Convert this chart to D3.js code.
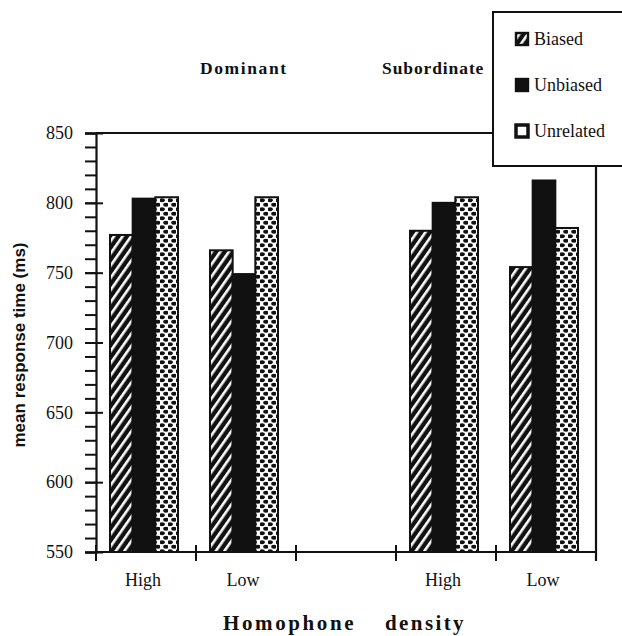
<!DOCTYPE html>
<html>
<head>
<meta charset="utf-8">
<script src="https://cdn.jsdelivr.net/npm/d3@7"></script>
<style>
  body { margin: 0; background: #fff; }
  text { font-family: "Liberation Serif", "Times New Roman", serif; fill: #111; }
</style>
</head>
<body>
<script>
// slots along the x axis, the third one is the empty gap between the two panels
const slots = ["D-High", "D-Low", "gap", "S-High", "S-Low"];
const slotLabels = ["High", "Low", "", "High", "Low"];
const series = ["Biased", "Unbiased", "Unrelated"];
const biased = [777, 766, null, 780, 754];
const unbiased = [803, 749, null, 800, 816];
const unrelated = [804, 804, null, 804, 782];
const yTicks = [550, 600, 650, 700, 750, 800, 850];

const serif = "'Liberation Serif', 'Times New Roman', serif";
const W = 622, H = 636;
const svg = d3.select("body").append("svg")
    .attr("width", W)
    .attr("height", H);

const defs = svg.append("defs");

// diagonal white stripes on black
const hatch = defs.append("pattern")
    .attr("id", "hatch")
    .attr("patternUnits", "userSpaceOnUse")
    .attr("width", 7).attr("height", 7)
    .attr("patternTransform", "rotate(35)");
hatch.append("rect").attr("width", 7).attr("height", 7).attr("fill", "#111");
hatch.append("rect").attr("x", 2).attr("width", 2.6).attr("height", 7).attr("fill", "#fff");

// staggered black dots on white
const dots = defs.append("pattern")
    .attr("id", "dots")
    .attr("patternUnits", "userSpaceOnUse")
    .attr("width", 8).attr("height", 9);
dots.append("rect").attr("width", 8).attr("height", 9).attr("fill", "#fff");
dots.append("ellipse").attr("cx", 2).attr("cy", 2.25).attr("rx", 2.8).attr("ry", 1.9).attr("fill", "#111");
dots.append("ellipse").attr("cx", 6).attr("cy", 6.75).attr("rx", 2.8).attr("ry", 1.9).attr("fill", "#111");

const fills = { Biased: "url(#hatch)", Unbiased: "#111", Unrelated: "url(#dots)" };
const legendFills = { Biased: "url(#hatch)", Unbiased: "#111", Unrelated: "#fff" };

const x = d3.scaleBand().domain(slots).range([96, 596]);
const xSub = d3.scaleBand().domain(series).range([14, 82]);
const y = d3.scaleLinear().domain([550, 850]).range([552, 133]);

const rows = slots.map((s, i) => ({
  slot: s,
  values: [
    { key: "Biased", v: biased[i] },
    { key: "Unbiased", v: unbiased[i] },
    { key: "Unrelated", v: unrelated[i] }
  ]
}));

// bars
const g = svg.append("g").selectAll("g")
    .data(rows)
    .join("g")
    .attr("transform", d => `translate(${x(d.slot)},0)`);

g.selectAll("rect")
    .data(d => d.values.filter(e => e.v != null))
    .join("rect")
    .attr("x", d => xSub(d.key))
    .attr("width", xSub.bandwidth())
    .attr("y", d => y(d.v))
    .attr("height", d => y(550) - y(d.v))
    .attr("fill", d => fills[d.key])
    .attr("stroke", "#111")
    .attr("stroke-width", 2);

// y axis with minor ticks every 10
const yAxisMinor = d3.axisLeft(y).tickValues(d3.range(550, 851, 10)).tickSize(11).tickFormat("");
svg.append("g").attr("transform", "translate(96,0)").call(yAxisMinor)
    .call(s => s.select(".domain").remove())
    .selectAll("line").attr("stroke", "#111").attr("stroke-width", 2);

const yAxis = d3.axisLeft(y).tickValues(yTicks).tickSize(11).tickPadding(12);
const ya = svg.append("g").attr("transform", "translate(96,0)").call(yAxis)
    .attr("font-family", serif);
ya.select(".domain").attr("stroke", "#111").attr("stroke-width", 2.2);
ya.selectAll(".tick line").attr("x2", 7).attr("x1", -11).attr("stroke", "#111").attr("stroke-width", 2);
ya.selectAll(".tick text").attr("font-size", 18).style("font-family", serif).attr("fill", "#111");

// x axis
const xa = svg.append("g").attr("transform", "translate(0,552)");
xa.append("line").attr("x1", 96).attr("x2", 596).attr("stroke", "#111").attr("stroke-width", 2.2);
const edges = slots.map(s => x(s)).concat([x.range()[1]]);
xa.selectAll(".xt").data(edges).join("line")
    .attr("x1", d => d).attr("x2", d => d)
    .attr("y1", -7).attr("y2", 9)
    .attr("stroke", "#111").attr("stroke-width", 2);
xa.selectAll(".xl").data(slots).join("text")
    .attr("x", d => x(d) + 14 + 33)
    .attr("y", 34)
    .attr("text-anchor", "middle")
    .attr("font-size", 18)
    .text((d, i) => slotLabels[i]);

// frame: top and right edges
svg.append("line").attr("x1", 96).attr("x2", 493).attr("y1", 133).attr("y2", 133)
    .attr("stroke", "#111").attr("stroke-width", 2);
svg.append("line").attr("x1", 596).attr("x2", 596).attr("y1", 166).attr("y2", 561)
    .attr("stroke", "#111").attr("stroke-width", 2.2);

// panel titles
svg.append("text").attr("x", 200).attr("y", 74).attr("font-size", 17.5).attr("font-weight", "bold")
    .attr("letter-spacing", 1.6).text("Dominant");
svg.append("text").attr("x", 382).attr("y", 74).attr("font-size", 17.5).attr("font-weight", "bold")
    .attr("letter-spacing", 0.9).text("Subordinate");

// axis titles
svg.append("text")
    .attr("transform", "translate(25,345) rotate(-90)")
    .attr("text-anchor", "middle")
    .attr("font-size", 17)
    .attr("font-weight", "bold")
    .style("font-family", "'Liberation Sans', Arial, sans-serif")
    .text("mean response time (ms)");

svg.append("text").attr("x", 223).attr("y", 630).attr("font-size", 21).attr("font-weight", "bold")
    .attr("letter-spacing", 2.6).text("Homophone");
svg.append("text").attr("x", 385).attr("y", 630).attr("font-size", 21).attr("font-weight", "bold")
    .attr("letter-spacing", 2.4).text("density");

// legend
const lg = svg.append("g");
lg.append("rect").attr("x", 493).attr("y", 12).attr("width", 140).attr("height", 154)
    .attr("fill", "#fff").attr("stroke", "#111").attr("stroke-width", 2);
const li = lg.selectAll(".li").data(series).join("g")
    .attr("transform", (d, i) => `translate(516,${33 + i * 46})`);
li.append("rect").attr("width", 12).attr("height", 12)
    .attr("fill", d => legendFills[d]).attr("stroke", "#111")
    .attr("stroke-width", d => d === "Unrelated" ? 3.5 : 2.4);
li.append("text").attr("x", 18).attr("y", 12).attr("font-size", 18).text(d => d);
</script>
</body>
</html>
